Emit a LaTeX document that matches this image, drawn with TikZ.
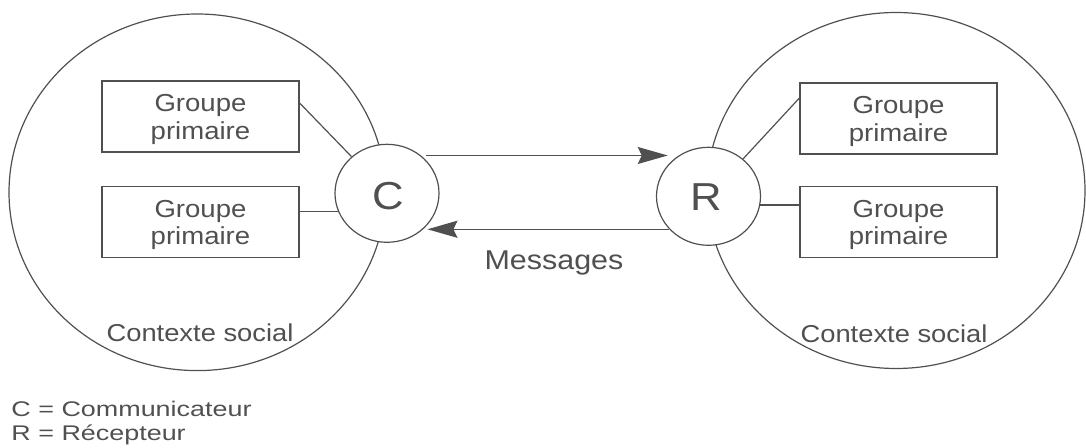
\documentclass[tikz,border=0pt]{standalone}
\usepackage{fontspec}
\setmainfont{Liberation Sans}[FakeStretch=1.12]
\newfontfamily\legendfont{Liberation Sans}[FakeStretch=1.27]
\usetikzlibrary{shapes.geometric,arrows.meta,calc}
\definecolor{ink}{HTML}{505050}
\begin{document}
\begin{tikzpicture}[x=0.5pt,y=-0.5pt,
  context/.style={ellipse, draw=ink, line width=0.6pt, inner sep=0pt},
  groupbox/.style={rectangle, draw=ink, line width=0.6pt, minimum width=98.5pt,
    minimum height=35.5pt, inner sep=0pt, align=center, text=ink,
    font=\fontsize{12.3}{13.85}\selectfont},
  agent/.style={ellipse, draw=ink, fill=white, line width=0.6pt,
    minimum width=52pt, minimum height=49pt, inner sep=0pt},
  letter/.style={inner sep=0pt, text=ink, font=\fontsize{19.5}{21}\selectfont},
  link/.style={draw=ink, line width=0.6pt},
  msg/.style={draw=ink, line width=0.7pt,
    -{Stealth[length=15pt,width=8.5pt,inset=2pt,fill=ink]}},
  caption/.style={anchor=base, inner sep=0pt, text=ink},
  legend/.style={anchor=base west, inner sep=0pt, text=ink,
    font=\legendfont\fontsize{10.6}{11.7}\selectfont}]
\useasboundingbox (0,0) rectangle (1086,448);

% social contexts
\node[context, minimum width=188.3pt, minimum height=178.3pt] (ctxL) at (197.3,192.3) {};
\node[context, minimum width=189pt, minimum height=178pt] (ctxR) at (896,190.5) {};

% primary groups
\node[groupbox] (gtl) at (200.5,116.5) {\rule{0pt}{11.6pt}Groupe\\primaire};
\node[groupbox] (gbl) at (200.5,222) {\rule{0pt}{11.6pt}Groupe\\primaire};
\node[groupbox] (gtr) at (898.5,118.5) {\rule{0pt}{11.6pt}Groupe\\primaire};
\node[groupbox] (gbr) at (898.5,222) {\rule{0pt}{11.6pt}Groupe\\primaire};

% communicator and receiver
\node[agent] (C) at (387,193.3) {};
\node[agent] (R) at (708.5,196.3) {};
\node[letter] (Ct) at (388,196) {C};
\node[letter] (Rt) at (706.5,197.5) {R};

% links between the groups and the agents
\draw[link] ([yshift=6.75pt]gtl.east) -- (C);
\coordinate (lb) at ([yshift=5.15pt]gbl.east);
\draw[link] (lb) -- (lb -| C.201);
\draw[link] (R) -- ([yshift=10.25pt]gtr.west);
\coordinate (rb) at ([yshift=8.5pt]gbr.west);
\draw[link] (rb -| R.-10) -- (rb);

% messages
\draw[msg, shorten <=2.5pt, shorten >=5.5pt] (C.48) -- (C.48 -| R.126);
\draw[msg, shorten >=2.5pt] (R.220) -- (R.220 -| C.-46);

% texts
\node[caption, font=\fontsize{13.6}{16}\selectfont] (msgs) at (554,269.3) {Messages};
\node[caption, font=\fontsize{12.2}{14}\selectfont] (cl) at (200,342) {Contexte social};
\node[caption, font=\fontsize{12.2}{14}\selectfont] (cr) at (894,343) {Contexte social};
\node[legend] (lc) at (11,416.7) {C = Communicateur};
\node[legend] (lr) at (11,440) {R = Récepteur};
\end{tikzpicture}
\end{document}
